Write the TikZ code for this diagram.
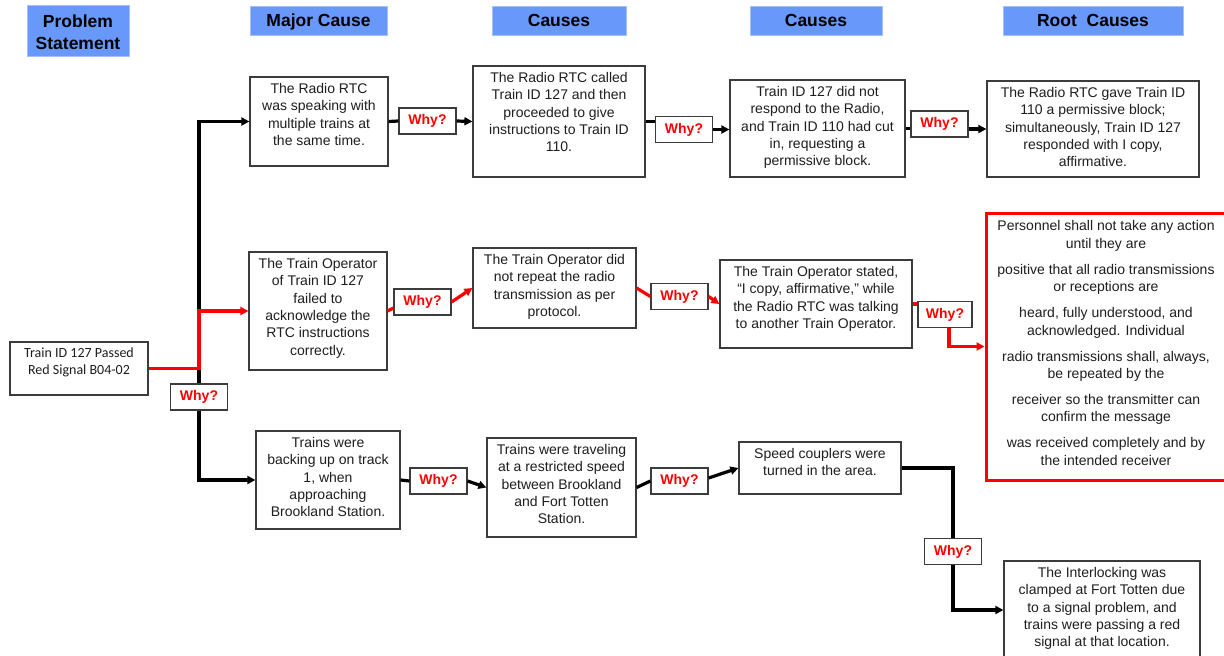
\documentclass[tikz,border=0pt]{standalone}
\usepackage{fontspec}
\setmainfont{Liberation Sans}
\newfontfamily\calfont{Carlito}
\usetikzlibrary{arrows.meta,calc}
\definecolor{hdrblue}{RGB}{104,152,250}
\definecolor{boxgray}{RGB}{60,60,60}
\definecolor{textgray}{RGB}{30,30,30}
\newcommand\bx[5]{%
  \node[box,minimum width=#3pt,minimum height=#4pt] (#1) at (#2) {};
  \node[txt] (#1t) at ([yshift=-6.5pt]#1.north) {#5};}
\newcommand\hd[5]{%
  \node[hdr,minimum width=#3pt,minimum height=#4pt] (#1) at (#2) {};
  \node[hdrtxt,text height=12.6pt,text depth=3.7pt] (#1t) at ([yshift=-1.5pt]#1.center) {#5};}
\begin{document}
\begin{tikzpicture}[x=1pt,y=-1pt,
  box/.style={draw=boxgray,line width=1.2pt,inner sep=0pt,fill=white},
  txt/.style={anchor=north,align=center,inner sep=0pt,text=textgray,font=\fontsize{14}{17.4}\selectfont},
  why/.style={draw=boxgray,line width=1.2pt,fill=white,minimum width=57pt,minimum height=26pt,inner sep=0pt,text=red,font=\bfseries\fontsize{14}{16}\selectfont},
  hdr/.style={fill=hdrblue,draw=hdrblue!60!white,line width=0.8pt,inner sep=0pt},
  hdrtxt/.style={inner sep=0pt,align=center,text=black,font=\bfseries\fontsize{17.5}{22}\selectfont},
  conn/.style={line width=3.2pt,draw=black},
  rconn/.style={line width=3.2pt,draw=red},
  arr/.style={-{Triangle[length=8pt,width=8pt]}}]
\clip (0,0) rectangle (1224,656);
\fill[white] (0,0) rectangle (1224,656);

% headers
\node[hdr,minimum width=102pt,minimum height=51pt] (h0) at (78,30.5) {};
\node[hdrtxt] (h0t) at ([yshift=-1.5pt]h0.center) {Problem\\Statement};
\hd{h1}{318.5,20.5}{137}{29}{Major Cause}
\hd{h2}{559,20.5}{134}{29}{Causes}
\hd{h3}{816,20.5}{132}{29}{Causes}
\hd{h4}{1093,20.5}{180}{29}{Root\ \ Causes}

% problem statement
\node[box,minimum width=138pt,minimum height=53pt] (p) at (79,368.5) {};
\node[txt,font=\calfont\fontsize{14}{17.2}\selectfont] (pt) at ([yshift=-6pt]p.north) {Train ID 127 Passed\\Red Signal B04-02};

% boxes
\bx{m1}{319,121.5}{138}{89}{The Radio RTC\\was speaking with\\multiple trains at\\the same time.}
\bx{c1a}{559,121.5}{172}{111}{The Radio RTC called\\Train ID 127 and then\\proceeded to give\\instructions to Train ID\\110.}
\bx{c2a}{817.5,128.5}{175}{97}{Train ID 127 did not\\respond to the Radio,\\and Train ID 110 had cut\\in, requesting a\\permissive block.}
\bx{c3a}{1093,129}{212}{96}{The Radio RTC gave Train ID\\110 a permissive block;\\simultaneously, Train ID 127\\responded with I copy,\\affirmative.}

\bx{m2}{318,311}{138}{118}{The Train Operator\\of Train ID 127\\failed to\\acknowledge the\\RTC instructions\\correctly.}
\bx{c1b}{554.5,288}{163}{80}{The Train Operator did\\not repeat the radio\\transmission as per\\protocol.}
\bx{c2b}{816,304}{192}{88}{The Train Operator stated,\\“I copy, affirmative,” while\\the Radio RTC was talking\\to another Train Operator.}

\bx{m3}{328,480}{144}{98}{Trains were\\backing up on track\\1, when\\approaching\\Brookland Station.}
\bx{c1c}{561.5,487.5}{149}{99}{Trains were traveling\\at a restricted speed\\between Brookland\\and Fort Totten\\Station.}
\bx{c2c}{820,468}{162}{52}{Speed couplers were\\turned in the area.}
\bx{c3c}{1102,610}{196}{98}{The Interlocking was\\clamped at Fort Totten due\\to a signal problem, and\\trains were passing a red\\signal at that location.}

% red root cause box
\node[draw=red,line width=3pt,fill=white,minimum width=240pt,minimum height=267pt,inner sep=0pt] (rb) at (1106,346.5) {};
\node[txt] (rbt) at ([yshift=-9pt]rb.north) {Personnel shall not take any action\\until they are\\[8.6pt]
positive that all radio transmissions\\or receptions are\\[8.6pt]
heard, fully understood, and\\acknowledged. Individual\\[8.6pt]
radio transmissions shall, always,\\be repeated by the\\[8.6pt]
receiver so the transmitter can\\confirm the message\\[8.6pt]
was received completely and by\\the intended receiver};

% why boxes
\node[why] (w0) at (199,397) {Why?};
\node[why] (w1a) at (427.5,121) {Why?};
\node[why] (w1b) at (684,129.5) {Why?};
\node[why] (w1c) at (939.5,124) {Why?};
\node[why] (w2a) at (422.5,302) {Why?};
\node[why] (w2b) at (679.5,296.5) {Why?};
\node[why,minimum width=54pt] (w2c) at (945,314.5) {Why?};
\node[why] (w3a) at (438.5,481) {Why?};
\node[why] (w3b) at (679.5,481) {Why?};
\node[why] (w3c) at (953,551.5) {Why?};

\coordinate (j) at (w0.north |- p.east);

% black connectors, left branch
\draw[conn,arr] (j |- m2.west) |- (m1.west);
\draw[conn] (j) -- (w0.north);
\draw[conn,arr] (w0.south) |- (m3.west);
% red connectors, left branch
\draw[rconn] (p.east) -- (j) |- ($(m2.west)+(-7,0)$);
\draw[rconn,arr] ($(m2.west)+(-8,0)$) -- (m2.west);

% row 1
\draw[conn] (m1.east) -- (w1a.west);
\draw[conn,arr] (w1a.east) -- (c1a.west);
\draw[conn] (c1a.east) -- (c1a.east -| w1b.west);
\draw[conn,arr] (w1b.east) -- (w1b.east -| c2a.west);
\draw[conn] (c2a.east) -- (c2a.east -| w1c.west);
\draw[conn,arr] (w1c.east |- c3a.west) -- (c3a.west);

% row 2
\draw[rconn] (m2.east) -- ($(w2a.west)+(0,6)$);
\draw[rconn,arr] (w2a.east) -- (c1b.west);
\draw[rconn] (c1b.east) -- (w2b.west);
\draw[rconn,arr] (w2b.east) -- (c2b.west);
\draw[rconn] (c2b.east) -- (c2b.east -| w2c.west);
\draw[rconn,arr] ($(w2c.south)+(4,0)$) |- (rb.west);

% row 3
\draw[conn] (m3.east) -- (w3a.west);
\draw[conn,arr] (w3a.east) -- (c1c.west);
\draw[conn] (c1c.east) -- (w3b.west);
\draw[conn,arr] ($(w3b.east)+(0,-3)$) -- (c2c.west);
\draw[conn] (c2c.east) -| (w3c.north);
\draw[conn,arr] (w3c.south) |- (c3c.west);
\end{tikzpicture}
\end{document}
